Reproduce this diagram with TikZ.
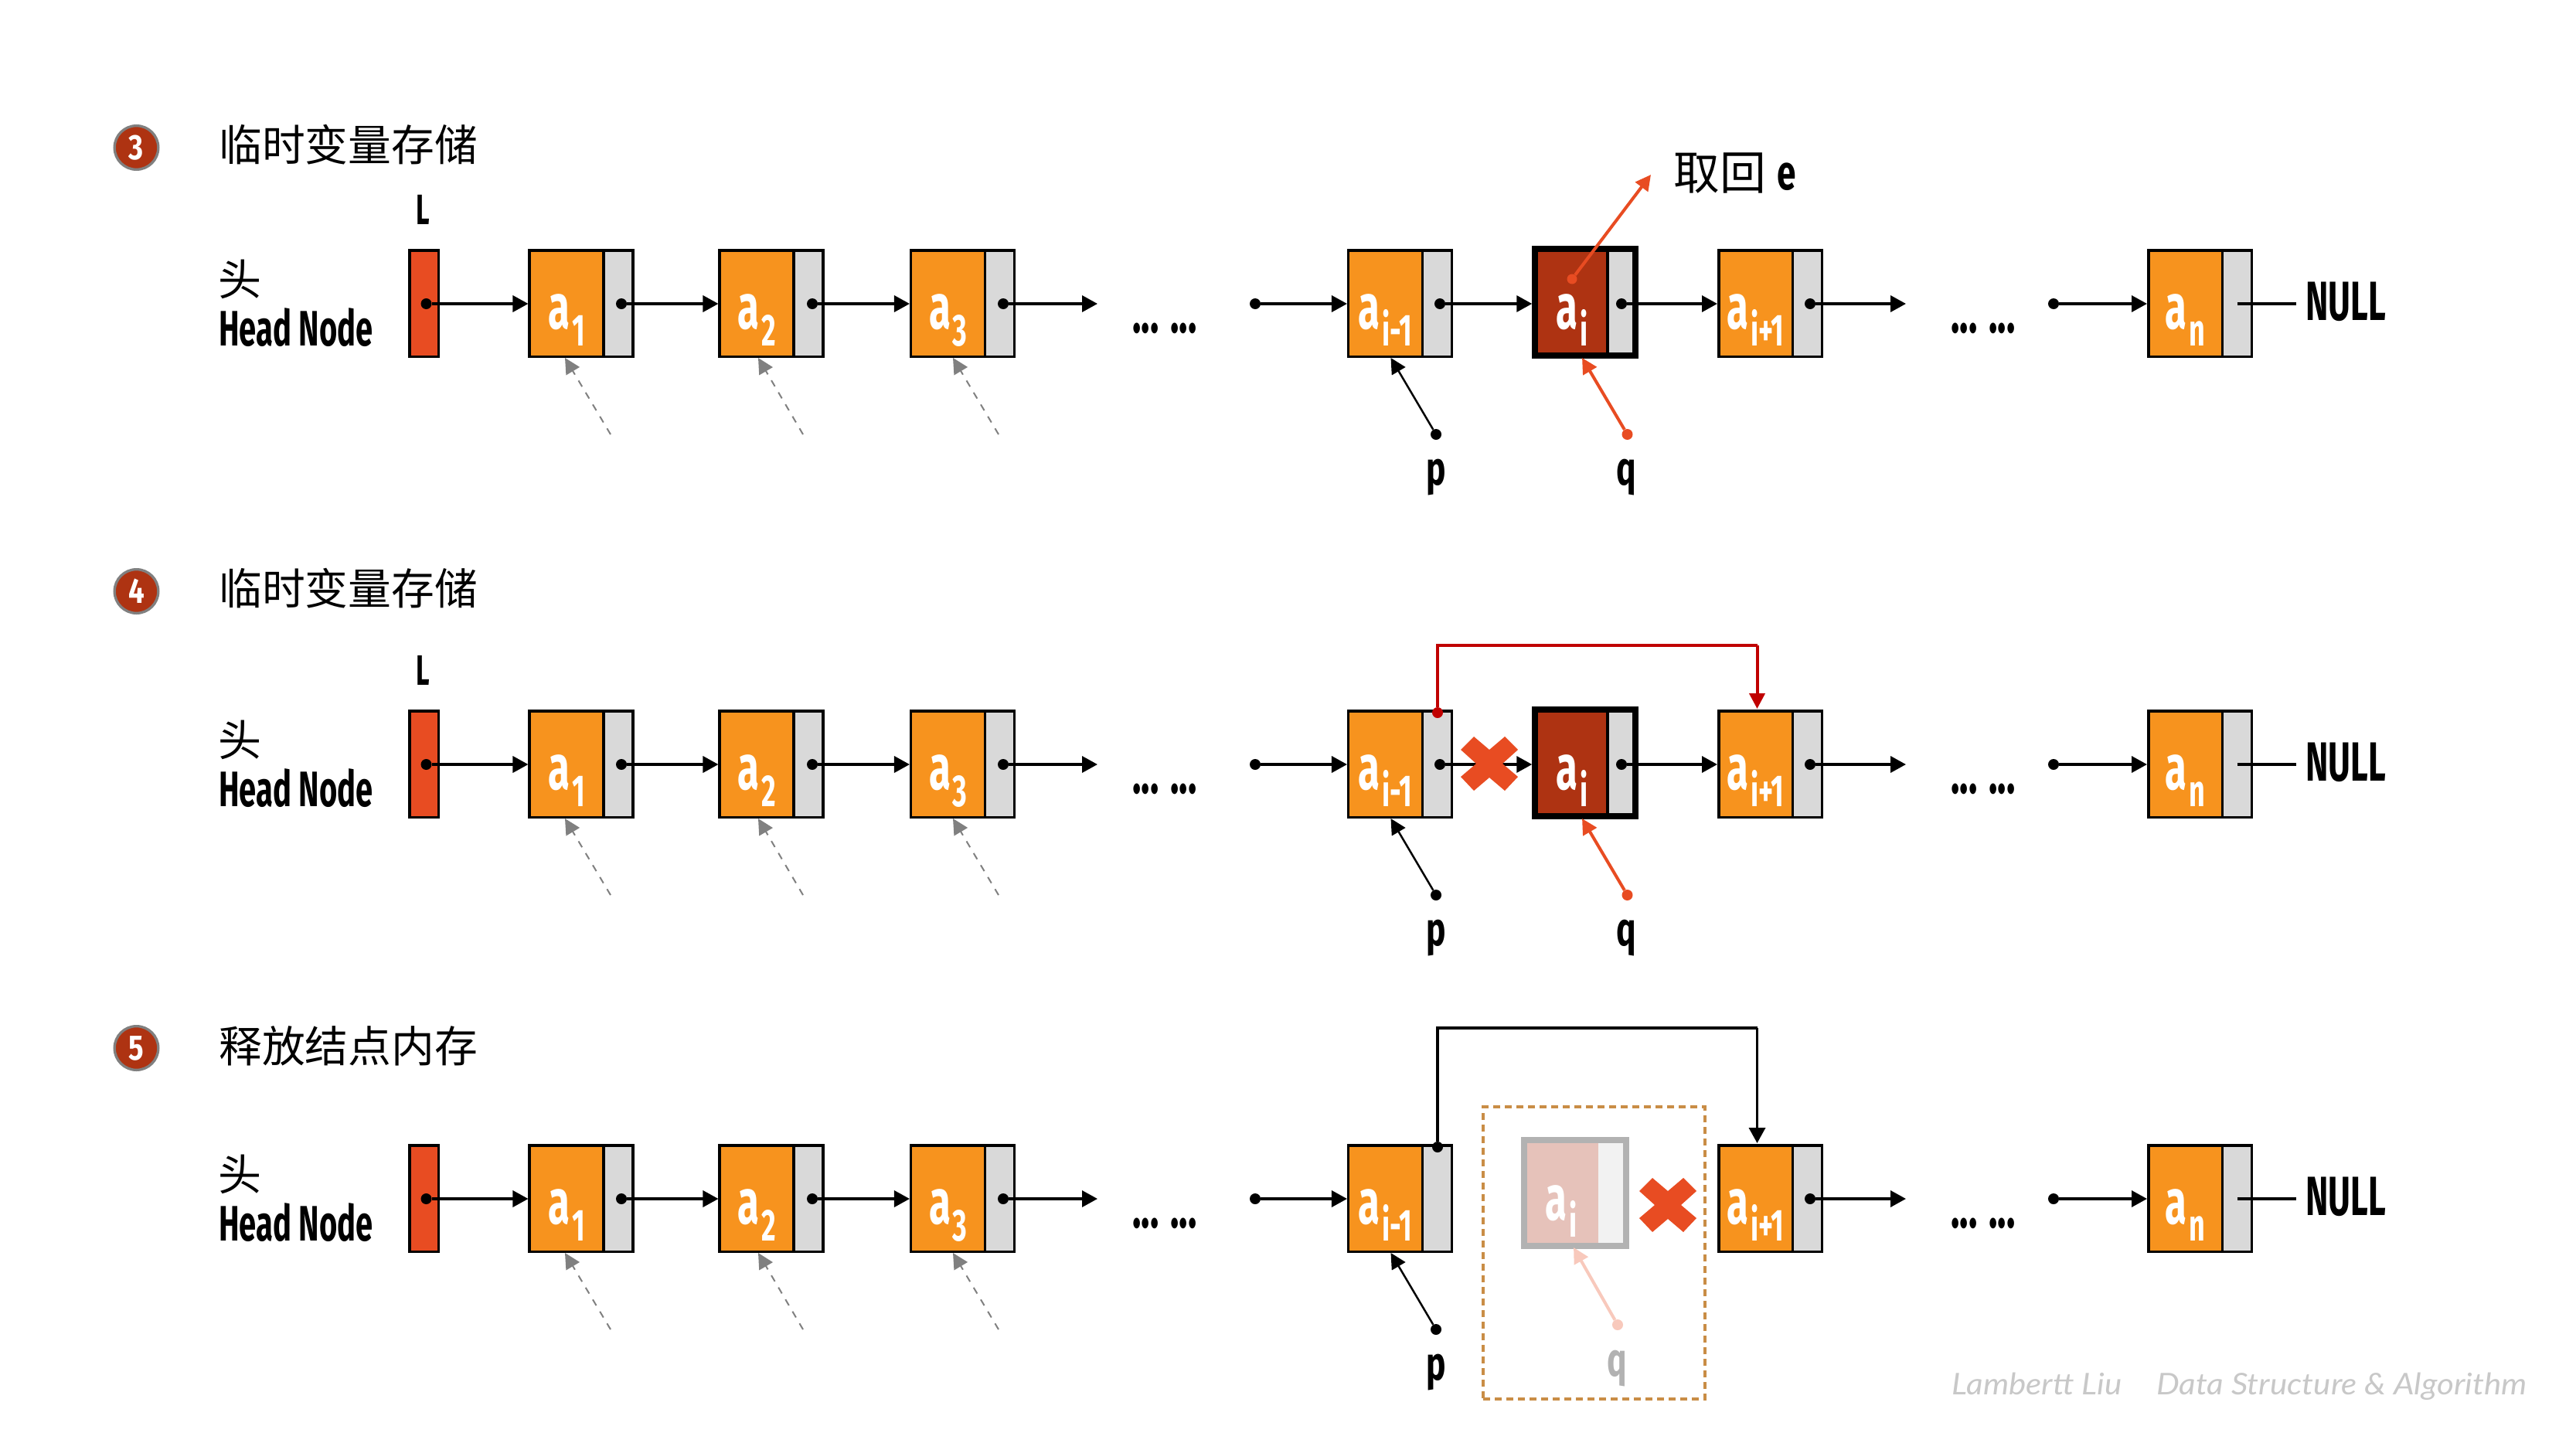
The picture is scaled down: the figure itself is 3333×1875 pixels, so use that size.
\documentclass[tikz,border=0pt]{standalone}
\usepackage{fontspec}
\usetikzlibrary{arrows.meta,calc}
\newfontfamily\cjk{Noto Sans CJK SC}
\newfontfamily\cond{Fira Sans}[FakeStretch=0.62]
\newfontfamily\condb{Fira Sans}[FakeStretch=0.7]
\newfontfamily\numf{Fira Sans}[FakeStretch=0.8]
\newfontfamily\wmf{Lato}[FakeStretch=1.09]
\definecolor{orangecell}{HTML}{F7931E}
\definecolor{greycell}{HTML}{D9D9D9}
\definecolor{headred}{HTML}{E84C22}
\definecolor{darkcell}{HTML}{AE3312}
\definecolor{crimson}{HTML}{C00000}
\definecolor{dashbox}{HTML}{C98D46}
\definecolor{fadegrey}{HTML}{B2B2B2}
\definecolor{fadeleft}{HTML}{E6C2BA}
\definecolor{faderight}{HTML}{F2F2F2}
\definecolor{fadearrow}{HTML}{F8C9BC}
\definecolor{wmgrey}{HTML}{C8C8C8}
\newcommand\lab[2][white]{{\fontsize{70pt}{72pt}\cond\bfseries\color{#1}a}\hspace{0.08cm}\raisebox{-0.66cm}{\fontsize{49.5pt}{50pt}\cond\bfseries\color{#1}#2}}
\tikzset{
  x=0.03cm,y=-0.03cm,
  datacell/.style={draw=black,fill=orangecell,line width=0.105cm,minimum width=2.8725cm,minimum height=4.125cm,inner sep=0},
  ptrcell/.style={draw=black,fill=greycell,line width=0.105cm,minimum width=1.14cm,minimum height=4.125cm,inner sep=0},
  headcell/.style={draw=black,fill=headred,line width=0.105cm,minimum width=1.125cm,minimum height=4.125cm,inner sep=0},
  celltext/.style={anchor=base,inner sep=0},
  dot/.style={circle,fill=black,minimum size=0.42cm,inner sep=0},
  reddot/.style={circle,fill=headred,minimum size=0.42cm,inner sep=0},
  arrow/.style={line width=0.105cm,-{Triangle[length=0.6cm,width=0.63cm]}},
  thinarrow/.style={line width=0.075cm,-{Triangle[length=0.6cm,width=0.6cm]}},
  redarrow/.style={draw=headred,line width=0.12cm,-{Triangle[length=0.6cm,width=0.6cm]}},
  crimsonarrow/.style={draw=crimson,line width=0.12cm,-{Triangle[length=0.6cm,width=0.6cm]}},
  dasharrow/.style={draw=black!50,line width=0.06cm,dash pattern=on 0.27cm off 0.27cm,-{Triangle[length=0.6cm,width=0.6cm]}},
  condlabel/.style={inner sep=0,anchor=base,font=\fontsize{52pt}{54pt}\condb\bfseries},
  ellipsistext/.style={inner sep=0,anchor=base,font=\fontsize{65pt}{67pt}\cond\bfseries},
  titletext/.style={inner sep=0,anchor=west,font=\fontsize{47.6pt}{50pt}\cjk},
  numdisc/.style={circle,draw=black!50,fill=darkcell,line width=0.1cm,minimum size=1.7cm,inner sep=0,text=white,font=\fontsize{39pt}{40pt}\numf\bfseries},
  crossmark/.style={fill=headred},
}
\newcommand\cell[3]{%
  \pgfmathsetmacro\xa{#2+49.6}\pgfmathsetmacro\xb{#2+116.5}%
  \node[datacell] (#1) at (\xa,392.5) {};
  \node[ptrcell] (#1p) at (\xb,392.5) {};
  \node[celltext] (#1t) at (\xa,425) {\lab{#3}};
}
\newcommand\crossat[1]{%
  \fill[crossmark,shift={(#1)}] (0,-18) -- (-20,-35) -- (-37,-18) -- (-17,0) -- (-37,17) -- (-20,35) -- (0,18) -- (20,35) -- (37,17) -- (17,0) -- (37,-18) -- (20,-35) -- cycle;
}
\newcommand\rowbase{%
  \node[headcell] (head) at (548.5,392.5) {};
  \cell{aone}{683.5}{1}
  \cell{atwo}{929.5}{2}
  \cell{athree}{1177}{3}
  \cell{aprev}{1743}{i-1}
  \cell{anext}{2222}{i+1}
  \cell{alast}{2778}{n}
  \node[inner sep=0] (tou) at (310,361) {\fontsize{47.8pt}{50pt}\cjk 头};
  \node[inner sep=0,anchor=base west,font=\fontsize{55pt}{56pt}\cond\bfseries] (hn) at (283,447) {Head Node};
  \node[dot] (dh) at (551.5,393) {};
  \node[dot] (done) at (804,393) {};
  \node[dot] (dtwo) at (1051,393) {};
  \node[dot] (dthree) at (1298,393) {};
  \coordinate (gapa) at (1420,393);
  \node[ellipsistext] (ella) at (1507,430) {... ...};
  \node[dot] (dback) at (1624,393) {};
  \node[dot] (dnext) at (2342,393) {};
  \coordinate (gapb) at (2466,393);
  \node[ellipsistext] (ellb) at (2566,430) {... ...};
  \node[dot] (dlast) at (2657,393) {};
  \coordinate (nullend) at (2971,393);
  \node[inner sep=0,anchor=base west,font=\fontsize{61pt}{62pt}\cond\bfseries] (nul) at (2983,414) {NULL};
  \draw[arrow] (dh) -- (dh -| aone.west);
  \draw[arrow] (done) -- (done -| atwo.west);
  \draw[arrow] (dtwo) -- (dtwo -| athree.west);
  \draw[arrow] (dthree) -- (gapa);
  \draw[arrow] (dback) -- (dback -| aprev.west);
  \draw[arrow] (dnext) -- (gapb);
  \draw[arrow] (dlast) -- (dlast -| alast.west);
  \draw[line width=0.105cm] (alastp.center |- nullend) -- (nullend);
  \coordinate (ga) at (731,463); \coordinate (gae) at (790,562);
  \coordinate (gb) at (981,463); \coordinate (gbe) at (1039,562);
  \coordinate (gc) at (1233,463); \coordinate (gce) at (1292,562);
  \draw[dasharrow] (gae) -- (ga);
  \draw[dasharrow] (gbe) -- (gb);
  \draw[dasharrow] (gce) -- (gc);
  \node[dot] (pd) at (1858,562) {};
  \coordinate (pt) at (1799.5,463);
  \draw[thinarrow] (pd) -- (pt);
  \node[condlabel] (pl) at (1858,627) {p};
}
\newcommand\rowfull{%
  \node[datacell,fill=darkcell,minimum width=2.82cm] (acur) at (2033,392.5) {};
  \node[ptrcell,minimum width=1.08cm] (acurp) at (2098,392.5) {};
  \node[draw=black,line width=0.225cm,minimum width=3.9cm,minimum height=4.14cm,inner sep=0] (acurf) at (2051,391) {};
  \node[celltext] (acurt) at (2034,425) {\lab{i}};
  \node[dot] (dprev) at (1863,393) {};
  \node[dot] (dcur) at (2098,393) {};
  \draw[arrow] (dprev) -- (dprev -| acurf.west);
  \draw[arrow] (dcur) -- (dcur -| anext.west);
  \node[reddot] (qd) at (2105.5,562) {};
  \coordinate (qt) at (2047,463);
  \draw[redarrow] (qd) -- (qt);
  \node[condlabel] (ql) at (2104,627) {q};
  \node[inner sep=0,font=\fontsize{47pt}{48pt}\cond\bfseries,anchor=base] (ell) at (547,290) {L};
}
\begin{document}
\begin{tikzpicture}
\useasboundingbox[fill=white] (0,0) rectangle (3333,1875);
% row 1
\node[numdisc] (nthree) at (176.5,191) {3};
\node[titletext] (ttitlea) at (283,187) {临时变量存储};
\begin{scope}[name prefix=ra-]
  \rowbase
  \rowfull
  \node[reddot,minimum size=0.39cm] (ed) at (2034,361) {};
  \coordinate (et) at (2136,226);
  \draw[redarrow] (ed) -- (et);
  \node[inner sep=0,anchor=base west] (etxt) at (2165,245) {\fontsize{51pt}{53pt}\cjk 取回\hspace{0.45cm}{\fontsize{54pt}{56pt}\condb\bfseries e}};
\end{scope}
% row 2
\node[numdisc] (nfour) at (176.5,765) {4};
\node[titletext] (ttitleb) at (283,761) {临时变量存储};
\begin{scope}[shift={(0,596)},name prefix=rb-]
  \rowbase
  \rowfull
  \crossat{1927,392}
  \node[circle,fill=crimson,minimum size=0.42cm,inner sep=0] (rd) at (1860,326) {};
  \coordinate (rh) at (1860,239);
  \coordinate (rk) at (2273.5,239);
  \coordinate (rt) at (2273.5,321);
  \draw[crimson,line width=0.12cm] (rd) -- (rh) -- (rk);
  \draw[crimsonarrow] (rk) -- (rt);
\end{scope}
% row 3
\node[numdisc] (nfive) at (176.5,1356) {5};
\node[titletext] (ttitlec) at (283,1353) {释放结点内存};
\begin{scope}[shift={(0,1158)},name prefix=rc-]
  \rowbase
  \node[dot] (bd) at (1860,326) {};
  \coordinate (bh) at (1860,172);
  \coordinate (bk) at (2273.5,172);
  \coordinate (bt) at (2273.5,321);
  \draw[line width=0.105cm] (bd) -- (bh) -- (bk);
  \draw[arrow] (bk) -- (bt);
  \node[draw=dashbox,dashed,dash pattern=on 0.27cm off 0.18cm,line width=0.12cm,minimum width=8.61cm,minimum height=11.34cm,inner sep=0] (fb) at (2062.5,463) {};
  \node[fill=fadeleft,minimum width=2.88cm,minimum height=4.1cm,inner sep=0] (fl) at (2020,385) {};
  \node[fill=faderight,minimum width=1.08cm,minimum height=4.1cm,inner sep=0] (fr) at (2086,385) {};
  \node[draw=fadegrey,line width=0.24cm,minimum width=3.96cm,minimum height=4.1cm,inner sep=0] (ff) at (2038,385.5) {};
  \node[celltext] (ft) at (2020,420) {\lab{i}};
  \crossat{2158,401}
  \node[circle,fill=fadearrow,minimum size=0.42cm,inner sep=0] (fq) at (2093,556) {};
  \coordinate (ftip) at (2036,456);
  \draw[draw=fadearrow,line width=0.12cm,-{Triangle[length=0.6cm,width=0.6cm]}] (fq) -- (ftip);
  \node[condlabel,text=fadegrey] (fql) at (2092,622) {q};
\end{scope}
\node[inner sep=0,anchor=base west,text=wmgrey,font=\fontsize{33pt}{35pt}\wmf\itshape] (wma) at (2525,1804) {Lambertt Liu};
\node[inner sep=0,anchor=base west,text=wmgrey,font=\fontsize{33pt}{35pt}\wmf\itshape] (wmb) at (2790,1804) {Data Structure \& Algorithm};
\end{tikzpicture}
\end{document}
